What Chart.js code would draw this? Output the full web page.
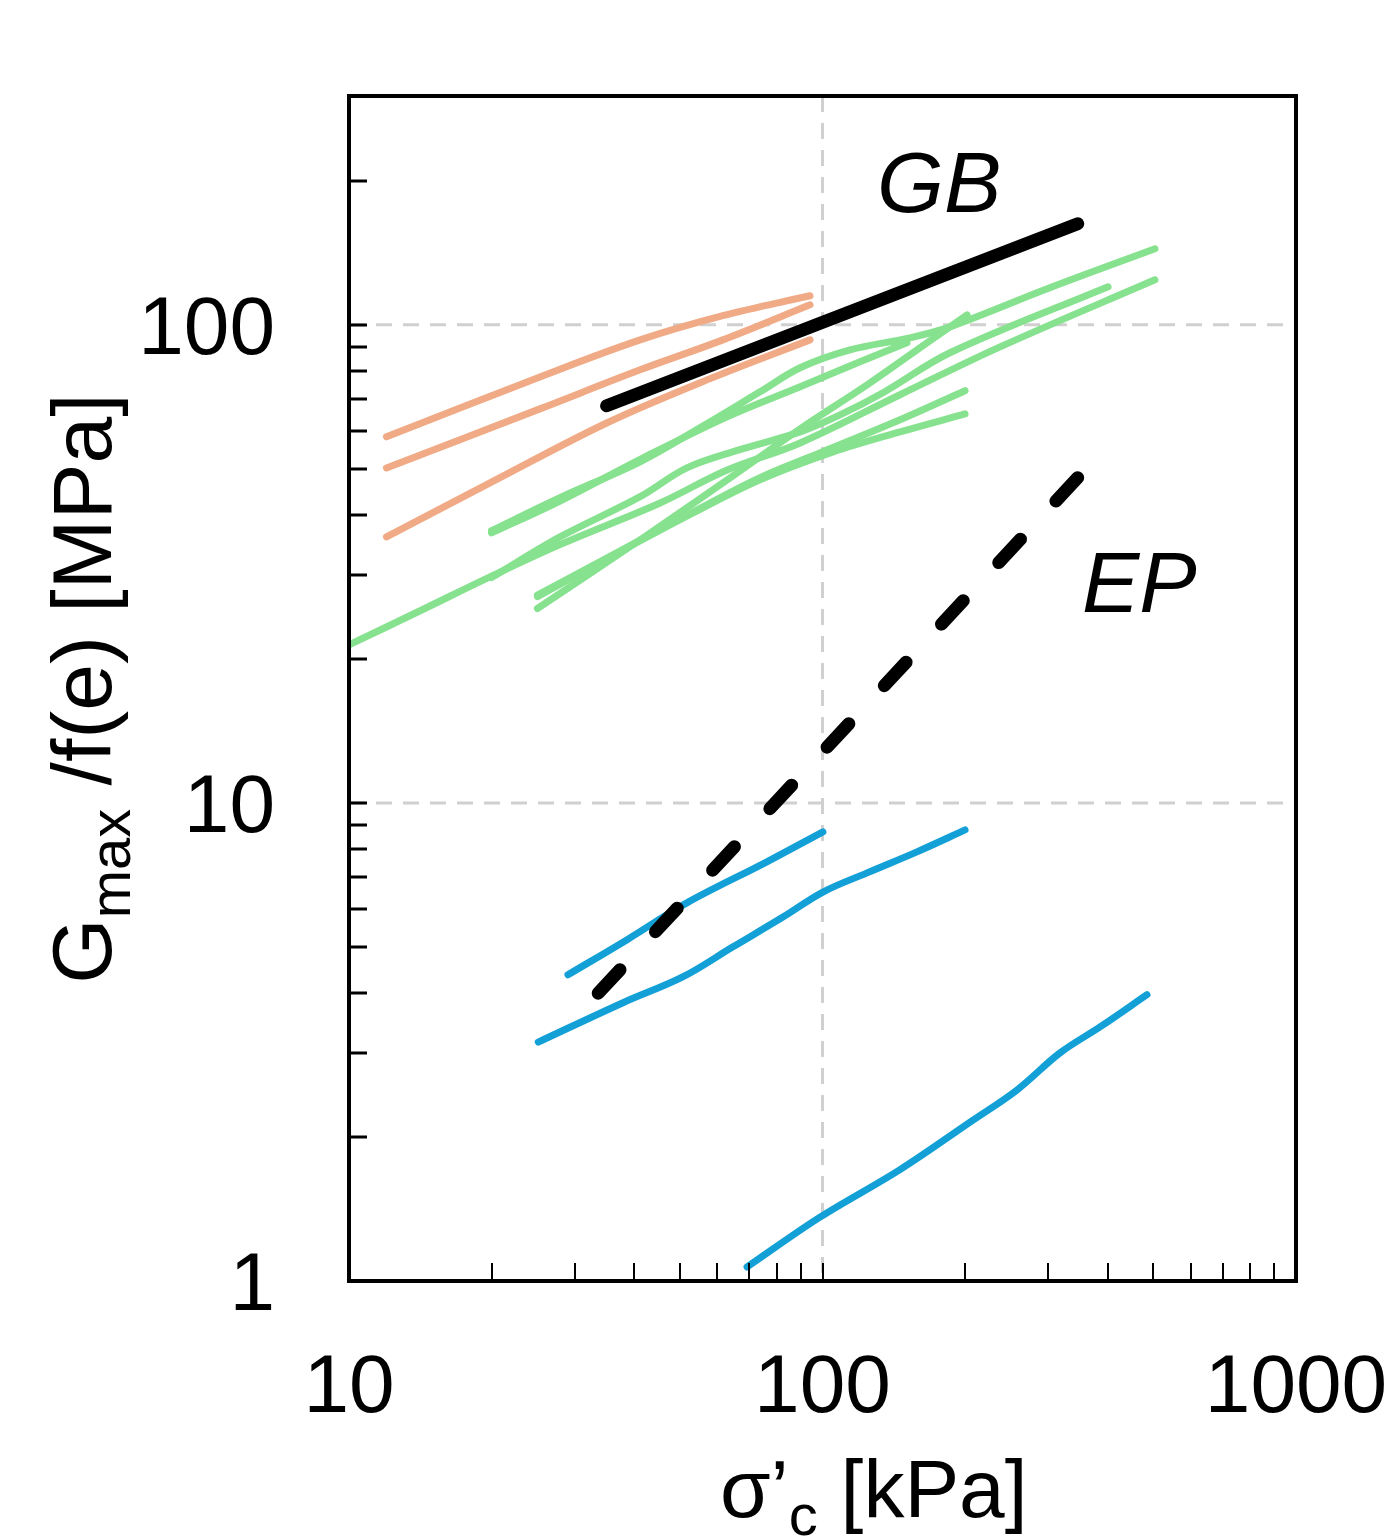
<!DOCTYPE html>
<html>
<head>
<meta charset="utf-8">
<script src="https://cdn.jsdelivr.net/npm/chart.js@4.4.1/dist/chart.umd.min.js"></script>
<style>
  html, body { margin: 0; padding: 0; background: #fff; }
  canvas { display: block; }
</style>
</head>
<body>
<canvas id="chart" width="1387" height="1539"></canvas>
<script>
// eixos (log-log)
const xRange = [10, 1000];
const yRange = [1, 301];
const xTickLabels = [10, 100, 1000];
const yTickLabels = [1, 10, 100];
const xTicks = [20, 30, 40, 50, 60, 70, 80, 90, 100, 200, 300, 400, 500, 600, 700, 800, 900];
const yTicks = [2, 3, 4, 5, 6, 7, 8, 9, 10, 20, 30, 40, 50, 60, 70, 80, 90, 100, 200];
const gridX = [100];
const gridY = [10, 100];

// retas de referencia
const gbLine = [[35, 67.7], [346, 162.7]];
const epLine = [[33.6, 4.0], [346, 47.9]];

// curvas laranja
const orangeA = [[12, 58.3], [25.3, 77.8], [41.2, 93.0], [61.6, 104.5], [94.1, 115.0]];
const orangeB = [[12, 50.2], [25.3, 66.7], [41.2, 80.5], [61.6, 93.0], [94.1, 110.1]];
const orangeC = [[12, 36.0], [19.85, 46.7], [35.1, 62.4], [57.0, 76.7], [94.1, 93.0]];

// curvas verdes
const greenA = [[20.0, 37.1], [27.9, 43.5], [41.2, 51.7], [55.1, 60.9], [73.8, 72.4], [89.7, 81.3], [114.3, 88.6], [153, 93.9], [185.9, 99.0], [302, 119.5], [503.6, 144.2]];
const greenB = [[20.0, 36.7], [27.9, 42.8], [41.8, 52.7], [62.9, 64.2], [89.7, 74.2], [120, 83.7], [150.8, 91.7]];
const greenC = [[25.0, 25.5], [41.2, 35.5], [61.6, 46.7], [89.7, 60.6], [124.2, 74.9], [166.2, 91.7], [202, 104.9]];
const greenD = [[20.0, 29.6], [27.9, 36.0], [41.2, 43.7], [51.7, 50.2], [66.9, 54.8], [89.7, 59.7], [108.9, 64.8], [134.2, 72.1], [185.9, 87.4], [400.9, 120.1]];
const greenE = [[10, 21.4], [14.1, 25.2], [19.85, 29.7], [27.9, 34.7], [45.4, 42.4], [62.9, 49.7], [89.7, 56.6], [145.8, 71.4], [237.1, 89.9], [503.6, 124.2]];
const greenF = [[25.0, 27.2], [34.4, 32.2], [53.3, 40.6], [73.8, 47.9], [99.8, 54.2], [145.8, 63.3], [200, 72.8]];
const greenG = [[25.0, 27.0], [34.4, 32.1], [53.3, 40.4], [73.8, 47.4], [105.3, 54.2], [145.8, 59.7], [200, 65.1]];

// curvas azuis
const blueA = [[29.0, 4.37], [38.6, 5.17], [51.7, 6.18], [76.3, 7.53], [100.2, 8.70]];
const blueB = [[25.1, 3.16], [37.9, 3.82], [50.8, 4.33], [64.7, 5.00], [82.5, 5.77], [100.2, 6.51], [124.2, 7.14], [158.3, 7.90], [200, 8.78]];
const blueC = [[69.3, 1.07], [98.8, 1.36], [145.8, 1.71], [207.9, 2.17], [257.6, 2.51], [317.4, 3.00], [385.6, 3.40], [484.5, 3.97]];

const ORANGE = 'rgb(240, 170, 133)';
const GREEN = 'rgb(134, 226, 142)';
const BLUE = 'rgb(18, 160, 214)';
const FONT = '"Liberation Sans", Arial, Helvetica, sans-serif';

function series(points, color, width, order, extra) {
    return Object.assign({
        data: points.map(p => ({ x: p[0], y: p[1] })),
        borderColor: color,
        borderWidth: width,
        borderCapStyle: 'round',
        borderJoinStyle: 'round',
        pointRadius: 0,
        pointHoverRadius: 0,
        showLine: true,
        fill: false,
        tension: 0.35,
        order: order
    }, extra || {});
}

// grade tracejada, moldura, marcas e textos
const framePlugin = {
    id: 'framePlugin',
    beforeDatasetsDraw(chart) {
        const { ctx, chartArea: a, scales: { x, y } } = chart;
        ctx.save();
        ctx.strokeStyle = 'rgb(208, 208, 208)';
        ctx.lineWidth = 3;
        ctx.setLineDash([16, 11]);
        gridX.forEach(v => {
            const px = x.getPixelForValue(v);
            ctx.beginPath(); ctx.moveTo(px, a.top); ctx.lineTo(px, a.bottom); ctx.stroke();
        });
        gridY.forEach(v => {
            const py = y.getPixelForValue(v);
            ctx.beginPath(); ctx.moveTo(a.left, py); ctx.lineTo(a.right, py); ctx.stroke();
        });
        ctx.restore();
    },
    afterDatasetsDraw(chart) {
        const { ctx, chartArea: a, scales: { x, y } } = chart;
        ctx.save();
        ctx.strokeStyle = '#000';

        // marcas para dentro
        ctx.lineWidth = 2;
        xTicks.forEach(v => {
            const px = Math.round(x.getPixelForValue(v));
            ctx.beginPath(); ctx.moveTo(px, a.bottom); ctx.lineTo(px, a.bottom - 18); ctx.stroke();
        });
        ctx.lineWidth = 3;
        yTicks.forEach(v => {
            const py = Math.round(y.getPixelForValue(v));
            ctx.beginPath(); ctx.moveTo(a.left, py); ctx.lineTo(a.left + 18, py); ctx.stroke();
        });

        // moldura
        ctx.lineWidth = 4;
        ctx.strokeRect(a.left, a.top, a.right - a.left, a.bottom - a.top);

        // rotulos dos eixos
        ctx.fillStyle = '#000';
        ctx.font = '82px ' + FONT;
        ctx.textBaseline = 'alphabetic';
        ctx.textAlign = 'right';
        yTickLabels.forEach(v => {
            ctx.fillText(String(v), 275, y.getPixelForValue(v) + 29);
        });
        ctx.textAlign = 'center';
        xTickLabels.forEach(v => {
            ctx.fillText(String(v), x.getPixelForValue(v), 1412);
        });

        // titulo eixo x: σ'c [kPa]
        ctx.textAlign = 'left';
        let cx = 720;
        ctx.font = '82px ' + FONT;
        ctx.fillText('σ\u2019', cx, 1517);
        cx += ctx.measureText('σ\u2019').width;
        ctx.font = '58px ' + FONT;
        ctx.fillText('c', cx, 1535);
        cx += ctx.measureText('c').width;
        ctx.font = '82px ' + FONT;
        ctx.fillText(' [kPa]', cx, 1517);

        // titulo eixo y: Gmax /f(e) [MPa]
        const main = '84px ' + FONT;
        const sub = '58px ' + FONT;
        ctx.font = main;
        const wG = ctx.measureText('G').width;
        const wRest = ctx.measureText(' /f(e) [MPa]').width;
        ctx.font = sub;
        const wSub = ctx.measureText('max').width;
        const total = wG + wSub + wRest;
        ctx.translate(111, (a.top + a.bottom) / 2);
        ctx.rotate(-Math.PI / 2);
        let tx = -total / 2;
        ctx.font = main;
        ctx.fillText('G', tx, 0);
        tx += wG;
        ctx.font = sub;
        ctx.fillText('max', tx, 19);
        tx += wSub;
        ctx.font = main;
        ctx.fillText(' /f(e) [MPa]', tx, 0);
        ctx.setTransform(1, 0, 0, 1, 0, 0);

        // anotacoes
        ctx.font = 'italic 86px ' + FONT;
        ctx.textAlign = 'left';
        ctx.fillText('GB', 877, 212);
        ctx.fillText('EP', 1082, 612);
        ctx.restore();
    }
};

const ctx = document.getElementById('chart').getContext('2d');

new Chart(ctx, {
    type: 'scatter',
    data: {
        datasets: [
            series(gbLine, '#000', 13, 0, { tension: 0 }),
            series(epLine, '#000', 13, 0, { borderDash: [32, 52], tension: 0 }),
            series(blueA, BLUE, 7, 1),
            series(blueB, BLUE, 7, 1),
            series(blueC, BLUE, 7, 1),
            series(greenA, GREEN, 7, 2),
            series(greenB, GREEN, 7, 2),
            series(greenC, GREEN, 7, 2),
            series(greenD, GREEN, 7, 2),
            series(greenE, GREEN, 7, 2),
            series(greenF, GREEN, 7, 2),
            series(greenG, GREEN, 7, 2),
            series(orangeA, ORANGE, 7, 3),
            series(orangeB, ORANGE, 7, 3),
            series(orangeC, ORANGE, 7, 3)
        ]
    },
    options: {
        responsive: false,
        animation: false,
        devicePixelRatio: 1,
        events: [],
        layout: {
            padding: { left: 349, right: 91, top: 96, bottom: 258 }
        },
        plugins: {
            legend: { display: false },
            tooltip: { enabled: false }
        },
        scales: {
            x: { type: 'logarithmic', min: xRange[0], max: xRange[1], display: false },
            y: { type: 'logarithmic', min: yRange[0], max: yRange[1], display: false }
        }
    },
    plugins: [framePlugin]
});
</script>
</body>
</html>
